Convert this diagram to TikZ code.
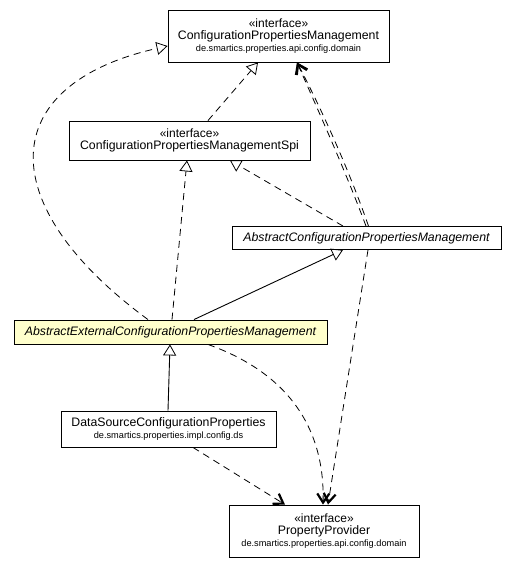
\documentclass[tikz,border=0pt]{standalone}
\usepackage{fontspec}
\setmainfont{Liberation Sans}
\usetikzlibrary{arrows.meta}
\definecolor{abstractyellow}{HTML}{FFFFCC}
\newcommand{\stf}{\fontsize{12}{14.5}\selectfont}
\newcommand{\nmf}{\fontsize{12.3}{14.5}\selectfont}
\newcommand{\pkf}{\fontsize{9.2}{12}\selectfont}
\begin{document}
\begin{tikzpicture}[x=1pt,y=-1pt,
  box/.style={draw=black,line width=0.9pt,fill=white,inner sep=0pt,align=center},
  dep/.style={line width=0.8pt,dash pattern=on 7pt off 5pt,-{Straight Barb[length=9pt,width=12pt,line width=2.2pt]}},
  realize/.style={line width=0.8pt,dash pattern=on 7pt off 5pt,-{Triangle[open,length=11pt,width=13pt,line width=0.8pt]}},
  gen/.style={line width=0.9pt,-{Triangle[open,length=11pt,width=13pt,line width=0.8pt]}},
]
\fill[white] (0,0) rectangle (517,568);
\useasboundingbox (0,0) rectangle (517,568);

\node[box,minimum width=221pt,minimum height=52pt] (cpm) at (278.5,36)
  {\stf «interface»\\\nmf ConfigurationPropertiesManagement\\\pkf de.smartics.properties.api.config.domain};
\node[box,minimum width=241pt,minimum height=39pt] (spi) at (189.5,140.5)
  {\stf «interface»\\\nmf ConfigurationPropertiesManagementSpi};
\node[box,minimum width=269pt,minimum height=23pt] (acpm) at (366.5,238)
  {\nmf\itshape AbstractConfigurationPropertiesManagement};
\node[box,fill=abstractyellow,minimum width=313pt,minimum height=24pt] (aecpm) at (170.5,332)
  {\nmf\itshape AbstractExternalConfigurationPropertiesManagement};
\node[box,minimum width=215pt,minimum height=36pt] (ds) at (168.5,429)
  {\nmf DataSourceConfigurationProperties\\\pkf de.smartics.properties.impl.config.ds};
\node[box,minimum width=190pt,minimum height=52pt] (pp) at (324,531)
  {\stf «interface»\\\nmf PropertyProvider\\\pkf de.smartics.properties.api.config.domain};

% realizations
\draw[realize] ([xshift=18.5pt]spi.north) -- ([xshift=-20.5pt]cpm.south);
\draw[realize] ([xshift=-22.5pt]aecpm.north) .. controls (-8,205) and (-5,85) .. ([yshift=-10pt]cpm.west);
\draw[realize] ([xshift=1.5pt]aecpm.north) -- ([xshift=-2.5pt]spi.south);
\draw[realize] ([xshift=-23.5pt]acpm.north) -- ([xshift=40.5pt]spi.south);

% generalizations
\draw[gen] ([xshift=23.5pt]aecpm.north) -- ([xshift=-23.5pt]acpm.south);
\draw[gen] ([xshift=-0.5pt]ds.north) -- ([xshift=-0.5pt]aecpm.south);

% dependencies
\draw[dep] ([xshift=-0.5pt]acpm.north) .. controls (345,170) and (318,110) .. ([xshift=18.5pt]cpm.south);
\draw[dep] ([xshift=2pt]acpm.north) .. controls (349,170) and (322,110) .. ([xshift=18.5pt]cpm.south);
\draw[dep] ([xshift=24.5pt]ds.south) -- ([xshift=-39pt]pp.north);
\draw[dep] ([xshift=37.5pt]aecpm.south) .. controls (285,372) and (325,425) .. ([xshift=-1pt]pp.north);
\draw[dep] ([xshift=1.5pt]acpm.south) -- ([xshift=4pt]pp.north);
\end{tikzpicture}
\end{document}
